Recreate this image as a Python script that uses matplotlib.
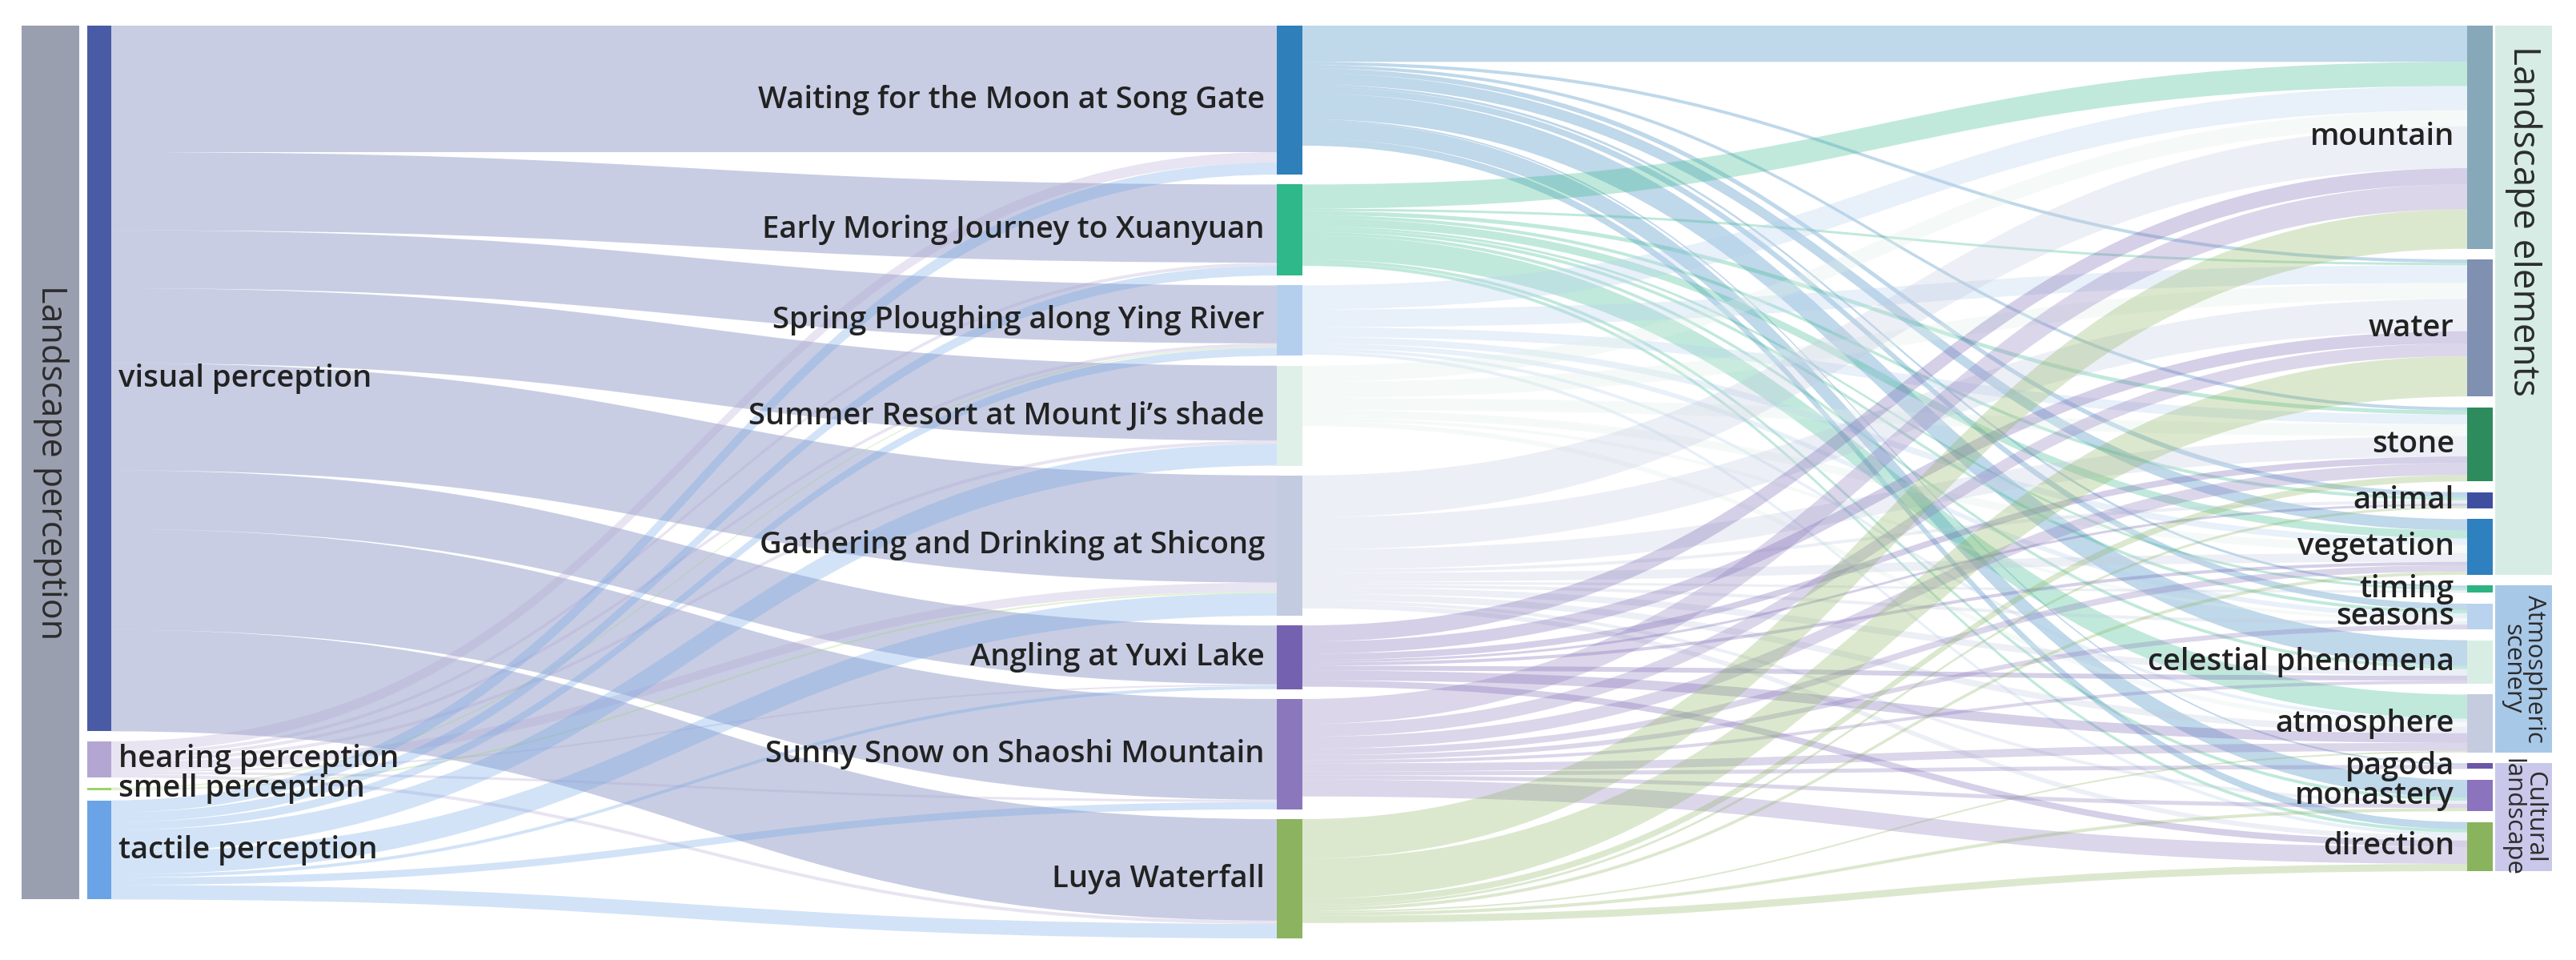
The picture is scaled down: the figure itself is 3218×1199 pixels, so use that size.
import matplotlib
matplotlib.use("Agg")
import matplotlib.pyplot as plt
from matplotlib.path import Path
from matplotlib.patches import PathPatch, Rectangle

plt.rcParams["font.family"] = ["Open Sans", "DejaVu Sans"]

# ── Nodes ────────────────────────────────────────────────────────────────────
PERCEPTIONS = ["visual perception", "hearing perception", "smell perception", "tactile perception"]
SCENES = ["Waiting for the Moon at Song Gate", "Early Moring Journey to Xuanyuan",
          "Spring Ploughing along Ying River", "Summer Resort at Mount Ji\u2019s shade",
          "Gathering and Drinking at Shicong", "Angling at Yuxi Lake",
          "Sunny Snow on Shaoshi Mountain", "Luya Waterfall"]
ELEMENTS = ["mountain", "water", "stone", "animal", "vegetation", "timing", "seasons",
            "celestial phenomena", "atmosphere", "pagoda", "monastery", "direction"]
GROUPS = [("Landscape elements", 0, 4), ("Atmospheric\nscenery", 5, 8), ("Cultural\nlandscape", 9, 11)]

# ── Flows: perception -> scene (in SCENES order) ─────────────────────────────
VISUAL  = [157, 97, 72, 93, 133, 73, 125, 126]
HEARING = [13, 4, 4, 4, 11, 2, 3, 4]
SMELL   = [0, 0, 1.5, 0, 2, 0, 0, 0]
TACTILE = [15, 12, 10, 27, 28, 4, 9, 18]

# ── Flows: scene -> element (in ELEMENTS order) ──────────────────────────────
WAITING   = [45, 4, 4, 6, 14, 3, 8, 32, 0, 2, 22, 9]
EARLY     = [30, 3, 5, 4, 10, 3, 4, 4, 30, 0, 4, 4]
SPRING    = [30, 22, 12, 0, 8, 0, 6, 0, 4, 0, 0, 4]
SUMMER    = [20, 20, 15, 0, 10, 0, 4, 0, 6, 0, 0, 0]
GATHERING = [52, 40, 25, 4, 11, 3, 4, 8, 8, 0, 4, 6]
ANGLING   = [20, 15, 8, 3, 4, 0, 0, 6, 12, 0, 0, 8]
SUNNY     = [31, 16, 15, 0, 8, 0, 6, 4, 10, 5, 5, 21]
LUYA      = [49, 50, 8, 3, 4, 0, 0, 0, 2, 0, 4, 9]

STAGE1 = [VISUAL, HEARING, SMELL, TACTILE]
STAGE2 = [WAITING, EARLY, SPRING, SUMMER, GATHERING, ANGLING, SUNNY, LUYA]

# ── Colours ──────────────────────────────────────────────────────────────────
PERC_COLORS = ["#4a5ba5", "#b3a6d3", "#9bd36b", "#6aa4e6"]
SCENE_COLORS = ["#2e7fba", "#2fb889", "#b4cfee", "#dff0e8", "#c3cbe0", "#7462b0", "#8b78bc", "#8cb35f"]
ELEM_COLORS = ["#86a8b9", "#7f90b0", "#2e8b5e", "#3f4fa0", "#2f80be", "#2db382", "#b9d2ee",
               "#d8eee4", "#c5cce0", "#6c56a8", "#8b73bd", "#8ab35e"]
GROUP_COLORS = ["#d6ece4", "#a8c8e8", "#c9c8ea"]
LEFT_GROUP_COLOR = "#9a9fb0"
TEXT_COLOR = "#222222"
TITLE_COLOR = "#2c2c2c"
LINK_ALPHA = 0.3
LABEL_SIZE = 27.5
WEIGHT = "semibold"

# ── Layout (pixel space) ─────────────────────────────────────────────────────
W, H = 3218, 1199
TOP, MID_BOTTOM = 32, 1172
GAP_L, GAP_M, GAP_R = 12.5, 12.3, 13.5
X_LGROUP = (27, 99)
X_LEFT = (109, 139)
X_MID = (1595, 1627)
X_RIGHT = (3082, 3114)
X_RGROUP = (3117, 3188)


def stack(heights, gap, top):
    pos, y = [], top
    for h in heights:
        pos.append(y)
        y += h + gap
    return pos


def band(ax, x0, x1, y0, y1, h, color):
    xm = (x0 + x1) / 2
    verts = [(x0, y0), (xm, y0), (xm, y1), (x1, y1),
             (x1, y1 + h), (xm, y1 + h), (xm, y0 + h), (x0, y0 + h), (x0, y0)]
    codes = [Path.MOVETO, Path.CURVE4, Path.CURVE4, Path.CURVE4,
             Path.LINETO, Path.CURVE4, Path.CURVE4, Path.CURVE4, Path.CLOSEPOLY]
    ax.add_patch(PathPatch(Path(verts, codes), facecolor=color, edgecolor="none",
                           alpha=LINK_ALPHA, lw=0))


def main():
    n_scene = len(SCENES)
    scene_in = [sum(f[j] for f in STAGE1) for j in range(n_scene)]
    scale = (MID_BOTTOM - TOP - GAP_M * (n_scene - 1)) / sum(scene_in)

    perc_h = [sum(f) * scale for f in STAGE1]
    scene_h = [v * scale for v in scene_in]
    elem_h = [sum(f[k] for f in STAGE2) * scale for k in range(len(ELEMENTS))]

    perc_y = stack(perc_h, GAP_L, TOP)
    scene_y = stack(scene_h, GAP_M, TOP)
    elem_y = stack(elem_h, GAP_R, TOP)

    fig = plt.figure(figsize=(W / 100, H / 100), dpi=100)
    ax = fig.add_axes([0, 0, 1, 1])
    ax.set_xlim(0, W)
    ax.set_ylim(H, 0)
    ax.axis("off")

    # links perception -> scene
    in_off = list(scene_y)
    for i, flows in enumerate(STAGE1):
        out = perc_y[i]
        for j, v in enumerate(flows):
            if v <= 0:
                continue
            h = v * scale
            band(ax, X_LEFT[1], X_MID[0], out, in_off[j], h, PERC_COLORS[i])
            out += h
            in_off[j] += h

    # links scene -> element
    in_off = list(elem_y)
    for j, flows in enumerate(STAGE2):
        out = scene_y[j]
        for k, v in enumerate(flows):
            if v <= 0:
                continue
            h = v * scale
            band(ax, X_MID[1], X_RIGHT[0], out, in_off[k], h, SCENE_COLORS[j])
            out += h
            in_off[k] += h

    # left group bar
    left_bottom = perc_y[-1] + perc_h[-1]
    ax.add_patch(Rectangle((X_LGROUP[0], TOP), X_LGROUP[1] - X_LGROUP[0], left_bottom - TOP,
                           facecolor=LEFT_GROUP_COLOR, edgecolor="none"))
    ax.text((X_LGROUP[0] + X_LGROUP[1]) / 2, (TOP + left_bottom) / 2, "Landscape perception",
            rotation=270, ha="center", va="center", fontsize=31, color=TITLE_COLOR)

    # nodes + labels
    for i, name in enumerate(PERCEPTIONS):
        ax.add_patch(Rectangle((X_LEFT[0], perc_y[i]), X_LEFT[1] - X_LEFT[0], perc_h[i],
                               facecolor=PERC_COLORS[i], edgecolor="none"))
        ax.text(X_LEFT[1] + 9, perc_y[i] + perc_h[i] / 2, name, ha="left", va="center",
                fontsize=LABEL_SIZE, color=TEXT_COLOR, fontweight=WEIGHT)

    for j, name in enumerate(SCENES):
        ax.add_patch(Rectangle((X_MID[0], scene_y[j]), X_MID[1] - X_MID[0], scene_h[j],
                               facecolor=SCENE_COLORS[j], edgecolor="none"))
        ax.text(X_MID[0] - 15, scene_y[j] + scene_h[j] / 2, name, ha="right", va="center",
                fontsize=LABEL_SIZE, color=TEXT_COLOR, fontweight=WEIGHT)

    for k, name in enumerate(ELEMENTS):
        ax.add_patch(Rectangle((X_RIGHT[0], elem_y[k]), X_RIGHT[1] - X_RIGHT[0], elem_h[k],
                               facecolor=ELEM_COLORS[k], edgecolor="none"))
        ax.text(X_RIGHT[0] - 16, elem_y[k] + elem_h[k] / 2, name, ha="right", va="center",
                fontsize=LABEL_SIZE, color=TEXT_COLOR, fontweight=WEIGHT)

    # right group bars
    for g, (label, a, b) in enumerate(GROUPS):
        y0 = elem_y[a]
        y1 = elem_y[b] + elem_h[b]
        ax.add_patch(Rectangle((X_RGROUP[0], y0), X_RGROUP[1] - X_RGROUP[0], y1 - y0,
                               facecolor=GROUP_COLORS[g], edgecolor="none"))
        xc = (X_RGROUP[0] + X_RGROUP[1]) / 2
        if g == 0:
            ax.text(xc, y0 + 25, label, rotation=270, ha="center", va="top",
                    fontsize=33, color=TITLE_COLOR)
        else:
            ax.text(xc, (y0 + y1) / 2, label, rotation=270, ha="center", va="center",
                    fontsize=22.5, color=TITLE_COLOR, linespacing=0.9, multialignment="center")

    fig.savefig("out.png", dpi=100, facecolor="white")
    plt.close(fig)


if __name__ == "__main__":
    main()
